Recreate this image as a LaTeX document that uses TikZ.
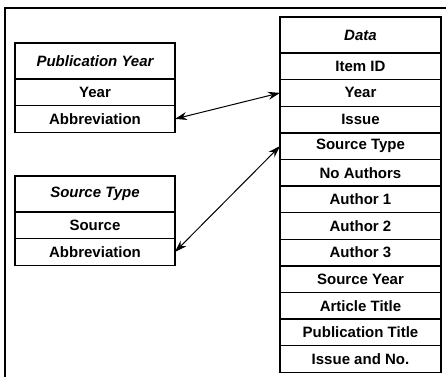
\documentclass[tikz,border=0pt]{standalone}
\usepackage{fontspec}
\setmainfont{Liberation Sans}
\usetikzlibrary{positioning,arrows.meta}

\tikzset{
    cellbox/.style={draw, line width=0.7pt, outer sep=0pt, inner sep=0pt,
        minimum width=80pt, minimum height=13.3pt,
        font=\fontsize{7.5}{9}\selectfont\bfseries},
    headbox/.style={cellbox, minimum height=18pt,
        font=\fontsize{7.5}{9}\selectfont\bfseries\itshape},
    link/.style={{Stealth[length=6pt,width=4pt]}-{Stealth[length=6pt,width=4pt]}, line width=0.5pt}
}

\begin{document}
\begin{tikzpicture}[x=0.5pt, y=-0.5pt]
        \useasboundingbox (0,0) rectangle (446,377);

        % outer frame (top and left only)
        \draw[line width=1.3pt] (5,377) -- (5,8) -- (446,8);

        % Publication Year table
        \node[headbox, anchor=north west] (pubHead) at (15,43) {Publication Year};
        \node[cellbox, below=0pt of pubHead] (pubYear) {Year};
        \node[cellbox, below=0pt of pubYear] (pubAbbr) {Abbreviation};

        % Source Type table
        \node[headbox, anchor=north west] (srcHead) at (15,176) {Source Type};
        \node[cellbox, below=0pt of srcHead] (srcSource) {Source};
        \node[cellbox, below=0pt of srcSource] (srcAbbr) {Abbreviation};

        % Data table
        \node[headbox, minimum width=80.5pt, anchor=north west] (dHead) at (280,17) {Data};
        \node[cellbox, minimum width=80.5pt, below=0pt of dHead] (dItem) {Item ID};
        \node[cellbox, minimum width=80.5pt, below=0pt of dItem] (dYear) {Year};
        \node[cellbox, minimum width=80.5pt, below=0pt of dYear] (dIssue) {Issue};
        \node[cellbox, minimum width=80.5pt, below=0pt of dIssue] (dSource) {Source Type};
        \node[cellbox, minimum width=80.5pt, below=0pt of dSource] (dNoAuth) {No Authors};
        \node[cellbox, minimum width=80.5pt, below=0pt of dNoAuth] (dAuthA) {Author 1};
        \node[cellbox, minimum width=80.5pt, below=0pt of dAuthA] (dAuthB) {Author 2};
        \node[cellbox, minimum width=80.5pt, below=0pt of dAuthB] (dAuthC) {Author 3};
        \node[cellbox, minimum width=80.5pt, below=0pt of dAuthC] (dSrcYear) {Source Year};
        \node[cellbox, minimum width=80.5pt, below=0pt of dSrcYear] (dArticle) {Article Title};
        \node[cellbox, minimum width=80.5pt, below=0pt of dArticle] (dPubTitle) {Publication Title};
        \node[cellbox, minimum width=80.5pt, below=0pt of dPubTitle] (dIssueNo) {Issue and No.};

        % draw links
        \draw[link] (pubAbbr.east) -- (dYear.west);
        \draw[link] (srcAbbr.east) -- (dSource.west);

    \end{tikzpicture}
\end{document}
